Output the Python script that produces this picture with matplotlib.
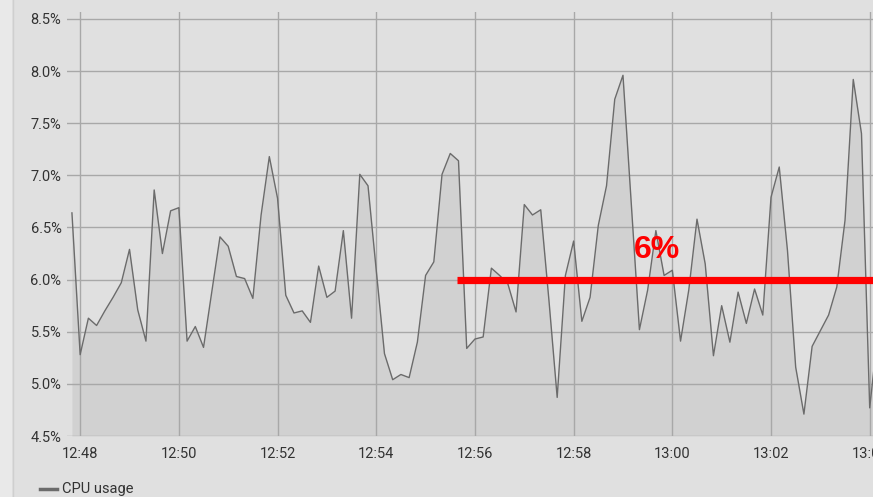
import datetime as dt
import matplotlib
matplotlib.use("Agg")
import matplotlib.pyplot as plt
import matplotlib.dates as mdates
from matplotlib.lines import Line2D
from matplotlib.patches import Rectangle

# ---------------- data ----------------
start_time = dt.datetime(2024, 1, 1, 12, 47, 50)
step_seconds = 10
cpu_usage = [
    6.64, 5.28, 5.63, 5.56, 5.70, 5.83, 5.97, 6.29, 5.71, 5.41,
    6.86, 6.25, 6.66, 6.69, 5.41, 5.55, 5.35, 5.88, 6.41, 6.32,
    6.03, 6.01, 5.82, 6.62, 7.18, 6.78, 5.85, 5.68, 5.70, 5.59,
    6.13, 5.83, 5.89, 6.47, 5.63, 7.01, 6.90, 6.09, 5.29, 5.04,
    5.09, 5.06, 5.40, 6.04, 6.17, 7.01, 7.21, 7.14, 5.34, 5.43,
    5.45, 6.11, 6.04, 5.96, 5.69, 6.72, 6.62, 6.67, 5.80, 4.87,
    6.04, 6.37, 5.60, 5.83, 6.52, 6.90, 7.73, 7.96, 6.74, 5.52,
    5.90, 6.47, 6.04, 6.09, 5.41, 5.90, 6.58, 6.15, 5.27, 5.75,
    5.40, 5.88, 5.58, 5.91, 5.66, 6.79, 7.08, 6.28, 5.16, 4.71,
    5.36, 5.51, 5.66, 5.93, 6.57, 7.92, 7.40, 4.77, 5.50,
]
times = [start_time + dt.timedelta(seconds=step_seconds * i) for i in range(len(cpu_usage))]

series_label = "CPU usage"
threshold_value = 6.0
threshold_label = "6%"
threshold_start = dt.datetime(2024, 1, 1, 12, 55, 38)
threshold_label_time = dt.datetime(2024, 1, 1, 12, 59, 41)

y_ticks = [4.5, 5.0, 5.5, 6.0, 6.5, 7.0, 7.5, 8.0, 8.5]
x_min = dt.datetime(2024, 1, 1, 12, 47, 44)
x_max = dt.datetime(2024, 1, 1, 13, 4, 4)
y_min, y_max = 4.5, 8.567

# ---------------- style ----------------
plt.rcParams['font.family'] = ['Roboto', 'DejaVu Sans']
bg = '#e0e0e0'
W, H = 873, 497
fig = plt.figure(figsize=(W / 100, H / 100), dpi=100, facecolor=bg)

# lighter strip on the far left
fig.add_artist(Rectangle((0, 0), 12 / W, 1, transform=fig.transFigure,
                         facecolor='#e9e9e9', edgecolor='none', zorder=0))
fig.add_artist(Line2D([12.5 / W, 12.5 / W], [0, 1], transform=fig.transFigure,
                      color='#cfcfcf', lw=1))

left, right, top, bottom = 67, 873, 12, 436
ax = fig.add_axes([left / W, 1 - bottom / H, (right - left) / W, (bottom - top) / H])
ax.set_facecolor(bg)

ax.fill_between(times, y_min, cpu_usage, color='#d1d1d1', zorder=1, linewidth=0)
ax.plot(times, cpu_usage, color='#6b6b6b', lw=1.0, zorder=3)

ax.plot([threshold_start, x_max], [threshold_value, threshold_value],
        color='#ff0000', lw=5.2, solid_capstyle='butt', zorder=4)
ax.text(threshold_label_time, 6.28, threshold_label, color='#ff0000',
        fontsize=23, fontweight='bold', family=['Liberation Sans', 'DejaVu Sans'],
        ha='center', va='center', zorder=5)

ax.set_xlim(x_min, x_max)
ax.set_ylim(y_min, y_max)
ax.set_yticks(y_ticks)
ax.set_yticklabels([f"{v:.1f}%" for v in y_ticks])
ax.xaxis.set_major_locator(mdates.MinuteLocator(byminute=range(0, 60, 2)))
ax.xaxis.set_major_formatter(mdates.DateFormatter('%H:%M'))

ax.grid(True, color='#a8a8a8', lw=1.0, zorder=2)
ax.set_axisbelow(False)
for s in ax.spines.values():
    s.set_visible(False)
ax.tick_params(axis='both', length=0, labelsize=10.5, labelcolor='#333333')
ax.tick_params(axis='y', pad=4)
ax.tick_params(axis='x', pad=8)

# legend
ly = 1 - 489 / H
fig.add_artist(Line2D([40 / W, 57 / W], [ly, ly], transform=fig.transFigure,
                      color='#6b6b6b', lw=2.5))
fig.text(62 / W, ly, series_label, va='center', ha='left', fontsize=10.5, color='#333333')

fig.savefig('out.png', dpi=100, facecolor=bg)
